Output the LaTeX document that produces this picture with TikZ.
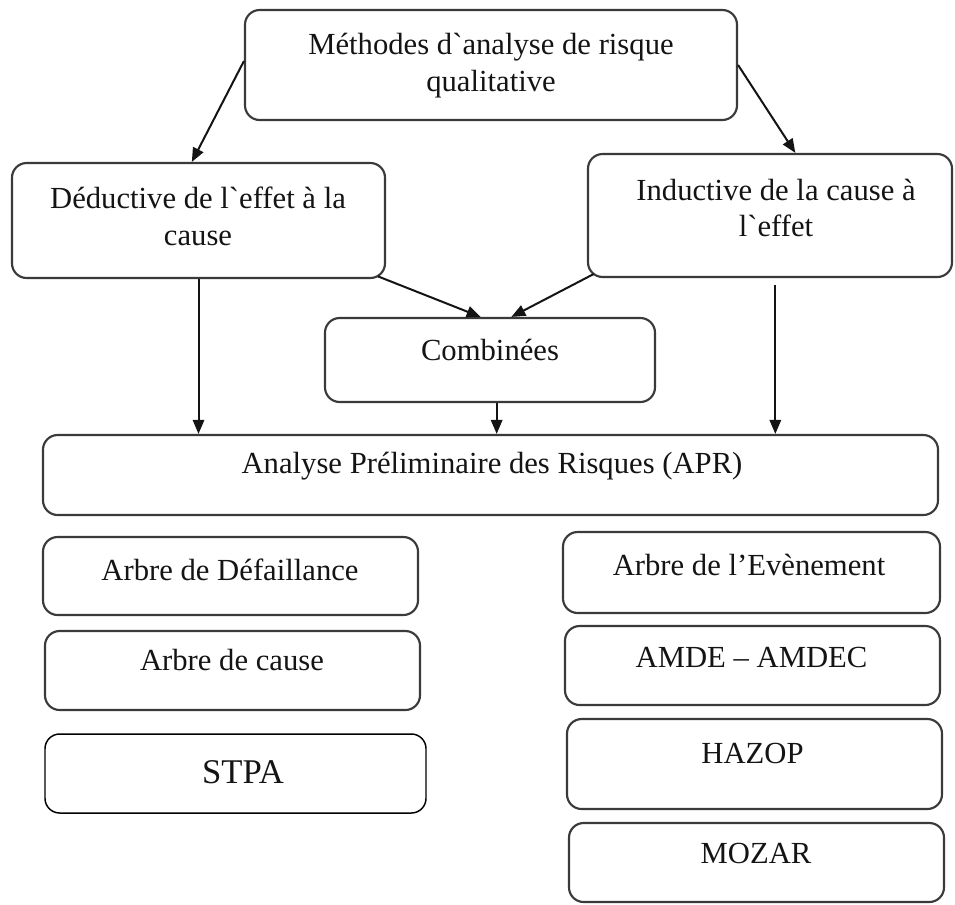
\documentclass[tikz,border=0pt]{standalone}
\usepackage{fontspec}
\setmainfont{Liberation Serif}
\usetikzlibrary{arrows.meta,positioning}
\definecolor{rkInk} {HTML}{141414}
\definecolor{rkEdge}{HTML}{3A3A3A}

\tikzset{
  rkbox/.style 2 args={draw=rkEdge,line width=1.6pt,rounded corners=11pt,
    minimum width=#1*0.75pt,minimum height=#2*0.75pt,inner sep=0pt},
  rktxt/.style={align=center,inner sep=0pt,text=rkInk,
    font=\fontsize{23}{27.7}\selectfont},
  rkarr/.style={-{Triangle[length=10.5pt,width=8.5pt]},line width=1.5pt,draw=rkInk}
}

\begin{document}
\begin{tikzpicture}[x=0.75pt,y=-0.75pt]
  \useasboundingbox (0,0) rectangle (955,904);

  % boites du haut
  \node[rkbox={492}{110}] (meth) at (491,65) {};
  \node[rktxt] (meth-t) at (491,66)
    {Méthodes d\textasciigrave analyse de risque\\qualitative};
  \node[rkbox={373}{115}] (ded) at (198.5,220.5) {};
  \node[rktxt] (ded-t) at (198,216) {Déductive de l\textasciigrave effet à la\\cause};
  \node[rkbox={364}{123}] (ind) at (770,215.5) {};
  \node[rktxt] (ind-t) at (776,208) {Inductive de la cause à\\l\textasciigrave effet};
  \node[rkbox={330}{84}] (comb) at (490,360) {};
  \node[rktxt] (comb-t) at (490,350) {Combinées};
  \node[rkbox={895}{80}] (apr) at (490.5,475) {};
  \node[rktxt] (apr-t) at (492,466) {Analyse Préliminaire des Risques (APR)};

  % methodes deductives
  \node[rkbox={375}{78}] (adef) at (230.5,576) {};
  \node[rktxt] (adef-t) at (230,570) {Arbre de Défaillance};
  \node[rkbox={375}{79}] (acau) at (232.5,670.5) {};
  \node[rktxt] (acau-t) at (232,660) {Arbre de cause};
  \node[rkbox={381}{79},draw=black,line width=1.1pt] (stpa) at (235.5,773.5) {};
  \node[rktxt,font=\fontsize{26}{30}\selectfont] (stpa-t) at (243,772) {STPA};

  % methodes inductives
  \node[rkbox={377}{81}] (aev) at (751.5,572.5) {};
  \node[rktxt] (aev-t) at (749,565) {Arbre de l’Evènement};
  \node[rkbox={375}{79}] (amde) at (752.5,665.5) {};
  \node[rktxt] (amde-t) at (751.5,657) {AMDE – AMDEC};
  \node[rkbox={375}{90}] (haz) at (754.5,764) {};
  \node[rktxt] (haz-t) at (752.5,753) {HAZOP};
  \node[rkbox={375}{79}] (moz) at (756.5,862.5) {};
  \node[rktxt] (moz-t) at (756,853) {MOZAR};

  % fleches
  \draw[rkarr] ([yshift=3pt]meth.west) -- ([xshift=-5pt]ded.north);
  \draw[rkarr] (meth.east) -- ([xshift=19pt]ind.north);
  \draw[rkarr] ([xshift=-6pt,yshift=2pt]ded.south east) -- ([xshift=-7pt]comb.north);
  \draw[rkarr] ([xshift=5pt,yshift=3pt]ind.south west) -- ([xshift=16pt]comb.north);
  \draw[rkarr] (ded.south) -- (ded.south |- apr.north);
  \draw[rkarr] ([xshift=5pt]comb.south) -- ([xshift=5pt]comb.south |- apr.north);
  \draw[rkarr] ([xshift=4pt,yshift=-5pt]ind.south) -- ([xshift=4pt]ind.south |- apr.north);
\end{tikzpicture}
\end{document}
